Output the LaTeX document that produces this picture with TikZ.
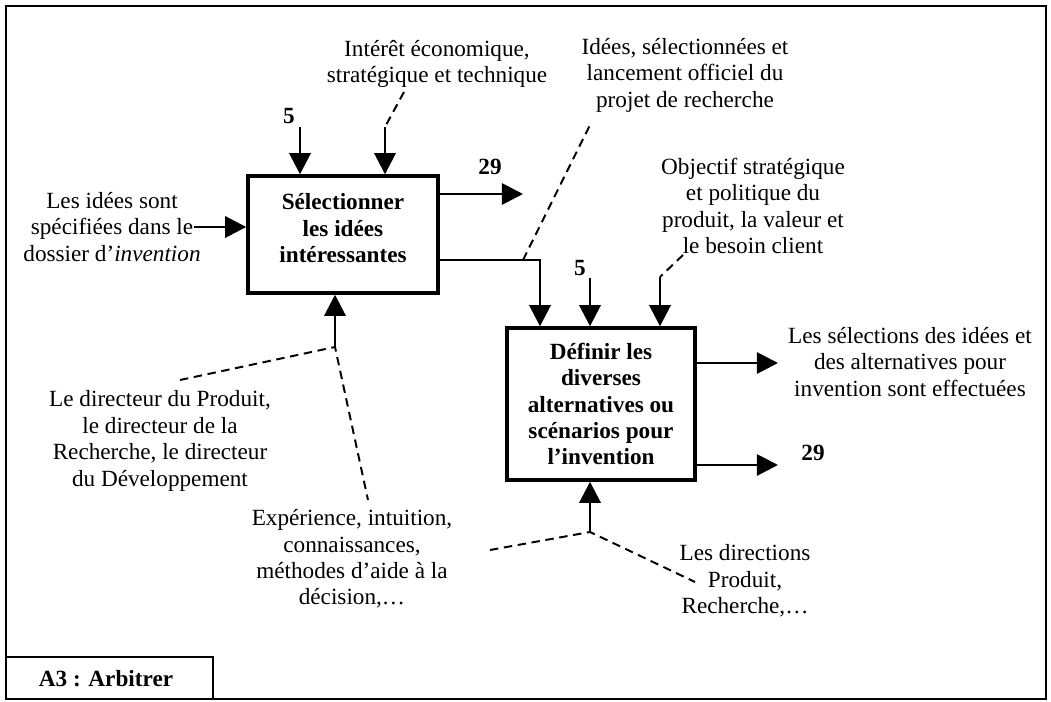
\documentclass[tikz,border=0pt]{standalone}
\usepackage{fontspec}
\setmainfont{Liberation Serif}
\usetikzlibrary{arrows.meta,calc}

\begin{document}
\begin{tikzpicture}[x=0.025cm,y=-0.025cm,
  every node/.style={font=\fontsize{16.5}{18.8}\selectfont},
  txt/.style={align=center,inner sep=1pt},
  num/.style={font=\fontsize{16.5}{18.8}\selectfont\bfseries,inner sep=1pt},
  proc/.style={draw,line width=2.4pt,align=center,font=\fontsize{16.5}{18.8}\selectfont\bfseries},
  flow/.style={line width=2pt,-{Triangle[length=15pt,width=15pt]}},
  link/.style={line width=1.4pt,dash pattern=on 6pt off 4pt}]
\useasboundingbox (0,0) rectangle (1051,702);
% frame and title
\draw[line width=1.8pt] (6,6) rectangle (1046,699);
\draw[line width=1.8pt] (6,657) rectangle (213,699);
\node[num] (ttl) at (106,679) {A3 : Arbitrer};
% activities
\node[proc,minimum width=4.75cm,minimum height=2.925cm,text depth=9pt] (b1) at (343,234.5) {Sélectionner\\les idées\\intéressantes};
\node[proc,minimum width=4.7cm,minimum height=3.8cm] (b2) at (601,404) {Définir les\\diverses\\alternatives ou\\scénarios pour\\l’invention};
% texts
\node[txt] (econ) at (437,64) {Intérêt économique,\\stratégique et technique};
\node[txt] (sel) at (685,75) {Idées, sélectionnées et\\lancement officiel du\\projet de recherche};
\node[txt] (obj) at (753,206) {Objectif stratégique\\et politique du\\produit, la valeur et\\le besoin client};
\node[txt] (inp) at (112,227) {Les idées sont\\spécifiées dans le\\dossier d’\textit{invention}};
\node[txt] (dir) at (160,441) {Le directeur du Produit,\\le directeur de la\\Recherche, le directeur\\du Développement};
\node[txt] (exp) at (352,559) {Expérience, intuition,\\connaissances,\\méthodes d’aide à la\\décision,\ldots};
\node[txt] (dirs) at (745,581) {Les directions\\Produit,\\Recherche,\ldots};
\node[txt] (res) at (910,362) {Les sélections des idées et\\des alternatives pour\\invention sont effectuées};
\node[num] (n5a) at (289,116) {5};
\node[num] (n29a) at (490,167) {29};
\node[num] (n5b) at (580,268) {5};
\node[num] (n29b) at (813,453) {29};
% free ends
\coordinate (c5a) at (300,127);
\coordinate (ceco) at (385,127);
\coordinate (teco) at (404,92);
\coordinate (o29a) at (523,194);
\coordinate (j1) at (540,260);
\coordinate (d1) at (523,260);
\coordinate (tsel) at (590,125);
\coordinate (m1) at (335,347);
\coordinate (tdir) at (180,380);
\coordinate (texp) at (368,500);
\coordinate (c5b) at (590,278);
\coordinate (cobj) at (660,277);
\coordinate (tobj) at (683,255);
\coordinate (o1) at (778,363);
\coordinate (o29b) at (778,465);
\coordinate (m2) at (590,532);
\coordinate (texp2) at (490,550);
\coordinate (tdirs) at (695,582);
% first activity
\draw[flow] (c5a) -- (c5a |- b1.north);
\draw[flow] (ceco) -- (ceco |- b1.north);
\draw[link] (teco) -- (ceco);
\draw[flow] ($(inp.east)+(-8,0)$) -- (inp.east -| b1.west);
\draw[flow] (o29a -| b1.east) -- (o29a);
\draw[flow] (m1) -- (m1 |- b1.south);
\draw[link] (tdir) -- (m1) -- (texp);
\draw[flow] (j1 -| b1.east) -- (j1) -- (j1 |- b2.north);
\draw[link] (d1) -- (tsel);
% second activity
\draw[flow] (c5b) -- (c5b |- b2.north);
\draw[flow] (cobj) -- (cobj |- b2.north);
\draw[link] (tobj) -- (cobj);
\draw[flow] (o1 -| b2.east) -- (o1);
\draw[flow] (o29b -| b2.east) -- (o29b);
\draw[flow] (m2) -- (m2 |- b2.south);
\draw[link] (texp2) -- (m2) -- (tdirs);
\end{tikzpicture}
\end{document}
